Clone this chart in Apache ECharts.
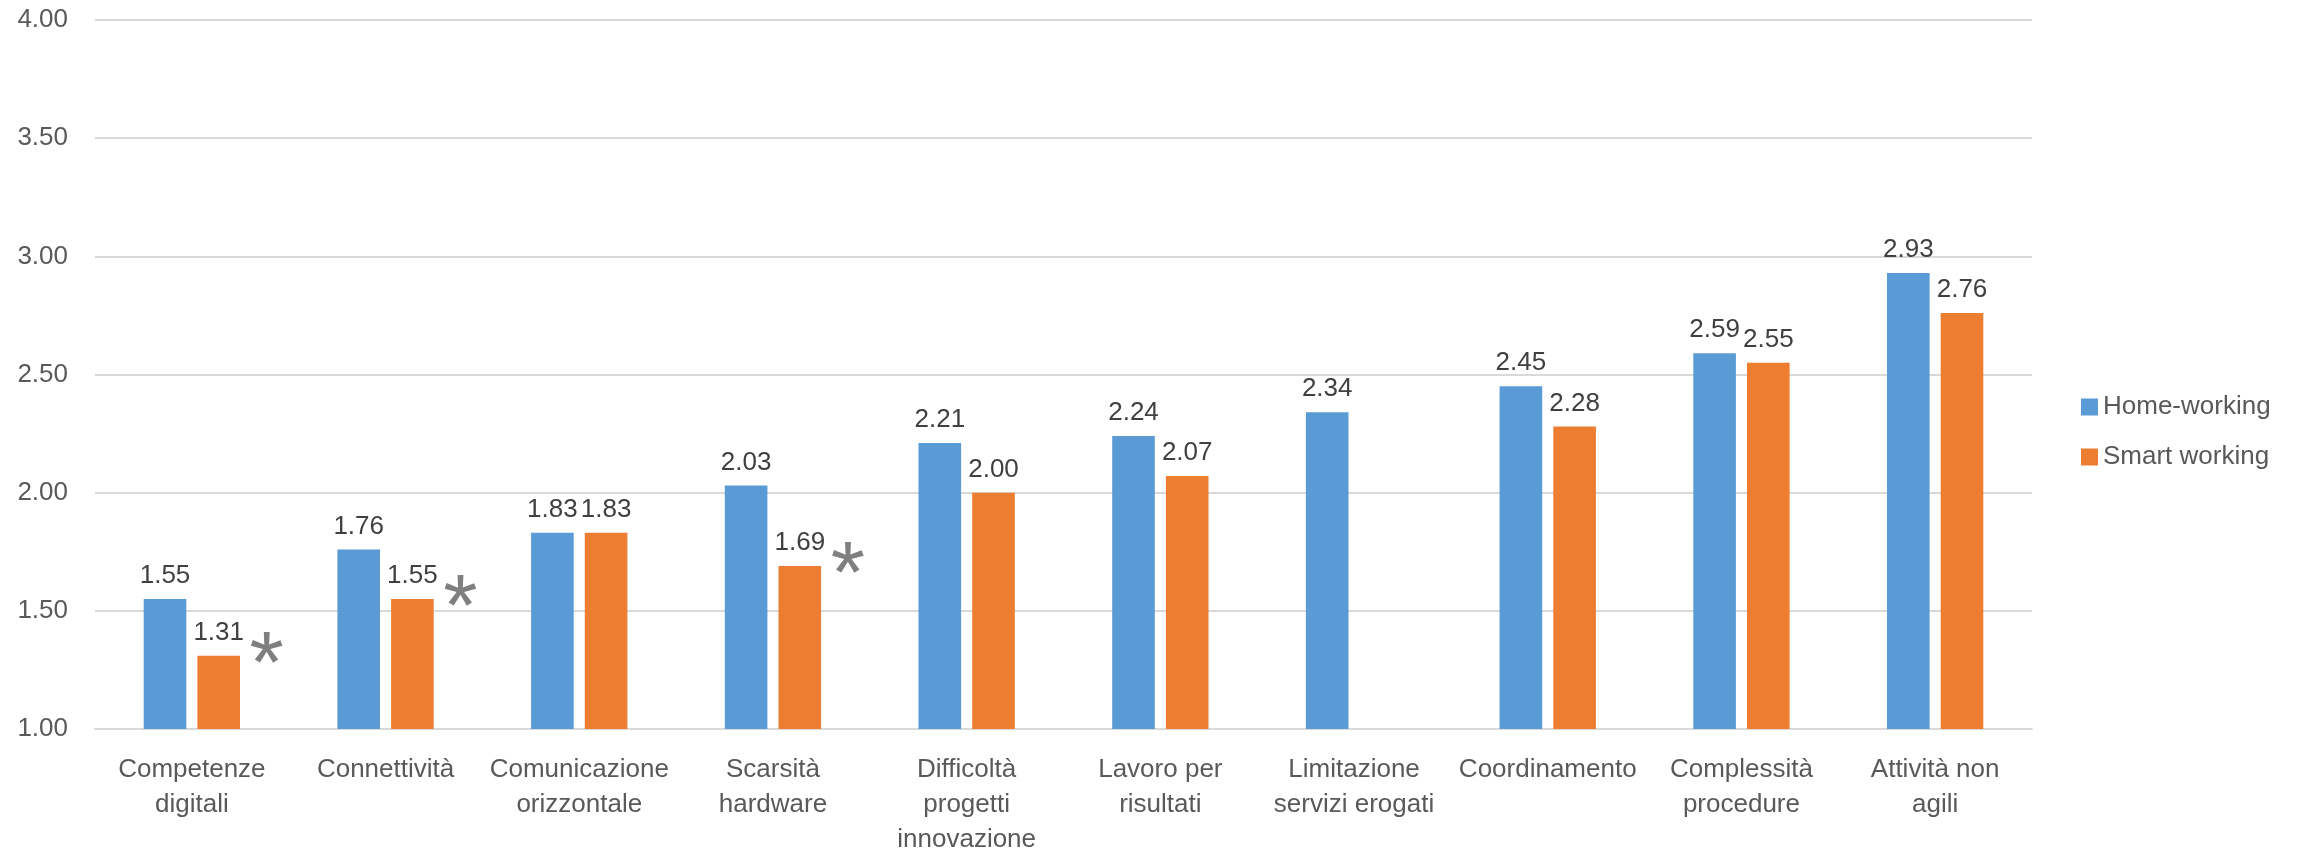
<!DOCTYPE html>
<html>
<head>
<meta charset="utf-8">
<script src="https://cdn.jsdelivr.net/npm/echarts@6/dist/echarts.min.js"></script>
<style>html,body{margin:0;padding:0;background:#fff}#c{width:2303px;height:850px}</style>
</head>
<body>
<div id="c"></div>
<script>
const categories = ['Competenze\ndigitali','Connettività','Comunicazione\norizzontale','Scarsità\nhardware','Difficoltà\nprogetti\ninnovazione','Lavoro per\nrisultati','Limitazione\nservizi erogati','Coordinamento','Complessità\nprocedure','Attività non\nagili'];
const homeWorking = [1.55, 1.76, 1.83, 2.03, 2.21, 2.24, 2.34, 2.45, 2.59, 2.93];
const smartWorking = [1.31, 1.55, 1.83, 1.69, 2.00, 2.07, null, 2.28, 2.55, 2.76];
const asteriskIdx = [0, 1, 3];
const yTicks = [1.00, 1.50, 2.00, 2.50, 3.00, 3.50, 4.00];

const FONT = "'Liberation Sans', Arial, sans-serif";
const chart = echarts.init(document.getElementById('c'));
chart.setOption({
  animation: false,
  textStyle: { fontFamily: FONT },
  grid: { left: 95, right: 271, top: 20, bottom: 121, containLabel: false, outerBoundsMode: 'none' },
  legend: {
    orient: 'vertical', left: 2076, top: 389,
    itemWidth: 17, itemHeight: 17, itemGap: 24,
    icon: 'rect',
    textStyle: { fontSize: 26, color: '#595959', fontFamily: FONT },
    data: ['Home-working', 'Smart working']
  },
  xAxis: {
    type: 'category', data: categories,
    axisLine: { lineStyle: { color: '#d9d9d9', width: 2 } },
    axisTick: { show: false },
    axisLabel: { interval: 0, fontSize: 26, color: '#595959', lineHeight: 35, margin: 23, fontFamily: FONT, hideOverlap: false }
  },
  yAxis: {
    type: 'value', min: yTicks[0], max: yTicks[yTicks.length-1], interval: 0.5,
    axisLine: { show: false }, axisTick: { show: false },
    splitLine: { lineStyle: { color: '#d9d9d9', width: 2 } },
    axisLabel: { fontSize: 26, color: '#595959', margin: 27, fontFamily: FONT, formatter: v => v.toFixed(2) }
  },
  series: [
    {
      name: 'Home-working', type: 'bar', data: homeWorking,
      barWidth: '22%', barGap: '26%',
      itemStyle: { color: '#5B9BD5' },
      label: { show: true, position: 'top', distance: 10, fontSize: 26, color: '#404040', fontFamily: FONT, formatter: p => p.value.toFixed(2) }
    },
    {
      name: 'Smart working', type: 'bar', data: smartWorking,
      barWidth: '22%', barGap: '26%',
      itemStyle: { color: '#ED7D31' },
      label: { show: true, position: 'top', distance: 10, fontSize: 26, color: '#404040', fontFamily: FONT, formatter: p => p.value == null ? '' : p.value.toFixed(2) },
      markPoint: {
        symbol: 'circle', symbolSize: 1,
        itemStyle: { color: 'rgba(0,0,0,0)' },
        label: { show: true, position: 'inside', formatter: '*', fontSize: 88, color: '#7f7f7f', offset: [48, 12], fontFamily: FONT },
        data: asteriskIdx.map(i => ({ coord: [i, smartWorking[i]] }))
      }
    }
  ]
});
</script>
</body>
</html>
